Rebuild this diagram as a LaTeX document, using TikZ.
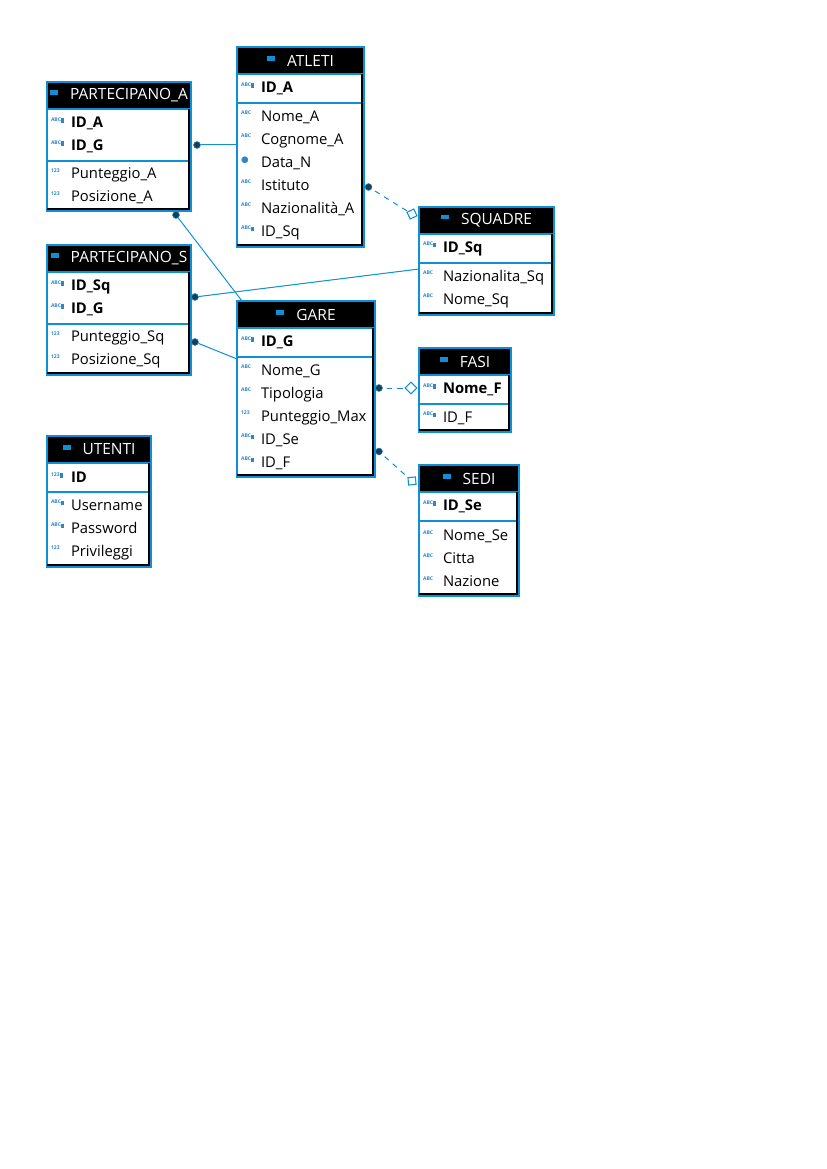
\documentclass[tikz,border=0pt]{standalone}
\usepackage{fontspec}
\setmainfont{Open Sans}
\newfontfamily\symfont{DejaVu Sans}
\usetikzlibrary{positioning, shapes.geometric}
\definecolor{erblue}{HTML}{0E8FD6}
\definecolor{erdark}{HTML}{1F3B52}
\definecolor{ericon}{HTML}{2F86C4}
\newcommand{\iconbox}[1]{\makebox[15pt][l]{\raisebox{4.8pt}{\textcolor{ericon}{\fontsize{3.8}{3.8}\selectfont\bfseries #1}}}}
\newcommand{\iabc}{\iconbox{ABC}}
\newcommand{\inum}{\iconbox{123}}
\newcommand{\ikey}{\iconbox{ABC\rule[-1.2pt]{2.2pt}{3.4pt}}}
\newcommand{\inkey}{\iconbox{123\rule[-1.2pt]{2.2pt}{3.4pt}}}
\newcommand{\idate}{\makebox[15pt][l]{\raisebox{3.6pt}{\textcolor{ericon}{\symfont\fontsize{6.5}{6.5}\selectfont ●}}}}
\newcommand{\ihead}{\textcolor{erblue}{\rule[4pt]{6pt}{3.6pt}}\hspace{9pt}}
\tikzset{
  x=0.75pt, y=-0.75pt,
  tabw/.style={minimum width=#1*0.75pt},
  tabrow/.style={minimum height=#1*0.75pt},
  tabhead/.style={rectangle, draw=erblue, line width=1.8pt, fill=black, text=white, outer sep=0pt,
                  inner sep=0pt, minimum height=27*0.75pt, font=\fontsize{11.6}{12}\selectfont},
  tabbody/.style={rectangle, draw=erblue, line width=1.8pt, fill=white, outer sep=0pt, inner sep=0pt,
                  align=left, font=\fontsize{11.1}{17.25}\selectfont},
  tabkey/.style={tabbody, font=\fontsize{11.1}{17.25}\selectfont\bfseries},
  tabedge/.style={draw=black, line width=1.1pt},
  rel/.style={draw=erblue, line width=0.75pt},
  reld/.style={rel, dash pattern=on 4pt off 4pt, dash phase=-3pt},
  erdot/.style={circle, fill=erdark, draw=erblue, line width=0.4pt, inner sep=0pt, minimum size=5.2pt},
  ersq/.style={rectangle, draw=erblue, fill=white, line width=0.8pt, inner sep=0pt, minimum size=5.6pt},
  erdia/.style={diamond, draw=erblue, fill=white, line width=0.8pt, inner sep=0pt, minimum size=9pt},
}
\begin{document}
\begin{tikzpicture}
  \useasboundingbox (0,0) rectangle (826,1169);
  % tables
  \node[tabhead, tabw=144, anchor=north west] (pah) at (47,82) {\ihead PARTECIPANO\_A};
  \node[tabkey, tabw=144, tabrow=52, text width=136*0.75pt, below=0pt of pah] (pak) {\ikey ID\_A\\ \ikey ID\_G};
  \node[tabbody, tabw=144, tabrow=50, text width=136*0.75pt, below=0pt of pak] (paa) {\inum Punteggio\_A\\ \inum Posizione\_A};

  \node[tabhead, tabw=127, anchor=north west] (ath) at (237,47) {\ihead ATLETI};
  \node[tabkey, tabw=127, tabrow=29, text width=119*0.75pt, below=0pt of ath] (atk) {\ikey ID\_A};
  \node[tabbody, tabw=127, tabrow=144, text width=119*0.75pt, below=0pt of atk] (ata) {\iabc Nome\_A\\ \iabc Cognome\_A\\ \idate Data\_N\\ \iabc Istituto\\ \iabc Nazionalità\_A\\ \ikey ID\_Sq};

  \node[tabhead, tabw=144, anchor=north west] (psh) at (47,245) {\ihead PARTECIPANO\_S};
  \node[tabkey, tabw=144, tabrow=52, text width=136*0.75pt, below=0pt of psh] (psk) {\ikey ID\_Sq\\ \ikey ID\_G};
  \node[tabbody, tabw=144, tabrow=51, text width=136*0.75pt, below=0pt of psk] (psa) {\inum Punteggio\_Sq\\ \inum Posizione\_Sq};

  \node[tabhead, tabw=138, anchor=north west] (gah) at (237,301) {\ihead GARE};
  \node[tabkey, tabw=138, tabrow=29, text width=130*0.75pt, below=0pt of gah] (gak) {\ikey ID\_G};
  \node[tabbody, tabw=138, tabrow=120, text width=130*0.75pt, below=0pt of gak] (gaa) {\iabc Nome\_G\\ \iabc Tipologia\\ \inum Punteggio\_Max\\ \ikey ID\_Se\\ \ikey ID\_F};

  \node[tabhead, tabw=135, anchor=north west] (sqh) at (419,207) {\ihead SQUADRE};
  \node[tabkey, tabw=135, tabrow=29, text width=127*0.75pt, below=0pt of sqh] (sqk) {\ikey ID\_Sq};
  \node[tabbody, tabw=135, tabrow=52, text width=127*0.75pt, below=0pt of sqk] (sqa) {\iabc Nazionalita\_Sq\\ \iabc Nome\_Sq};

  \node[tabhead, tabw=92, anchor=north west] (fah) at (419,348) {\ihead FASI};
  \node[tabkey, tabw=92, tabrow=29, text width=84*0.75pt, below=0pt of fah] (fak) {\ikey Nome\_F};
  \node[tabbody, tabw=92, tabrow=28, text width=84*0.75pt, below=0pt of fak] (faa) {\ikey ID\_F};

  \node[tabhead, tabw=100, anchor=north west] (seh) at (419,465) {\ihead SEDI};
  \node[tabkey, tabw=100, tabrow=29, text width=92*0.75pt, below=0pt of seh] (sek) {\ikey ID\_Se};
  \node[tabbody, tabw=100, tabrow=75, text width=92*0.75pt, below=0pt of sek] (sea) {\iabc Nome\_Se\\ \iabc Citta\\ \iabc Nazione};

  \node[tabhead, tabw=104, anchor=north west] (uth) at (47,436) {\ihead UTENTI};
  \node[tabkey, tabw=104, tabrow=29, text width=96*0.75pt, below=0pt of uth] (utk) {\inkey ID};
  \node[tabbody, tabw=104, tabrow=75, text width=96*0.75pt, below=0pt of utk] (uta) {\ikey Username\\ \ikey Password\\ \inum Privileggi};

  % dark inner edge
  \foreach \k/\a in {pak/paa,atk/ata,psk/psa,gak/gaa,sqk/sqa,fak/faa,sek/sea,utk/uta}{
    \draw[tabedge] ([xshift=-1.4pt]\k.north east) -- ([xshift=-1.4pt,yshift=1.4pt]\a.south east) -- ([yshift=1.4pt]\a.south west);
  }

  % relations
  \node[erdot] (d1) at (197,145) {};
  \node[erdot] (d2) at (176,215) {};
  \node[erdot] (d3) at (195,297) {};
  \node[erdot] (d4) at (195,342) {};
  \node[erdot] (d5) at (368.5,187) {};
  \node[erdot] (d6) at (379,388) {};
  \node[erdot] (d7) at (379,451.5) {};
  \node[ersq, rotate=25] (m1) at (412,214) {};
  \node[erdia] (m2) at (411,388) {};
  \node[ersq, rotate=5] (m3) at (412,481) {};

  \draw[rel] (d1) -- (d1 -| ata.west);
  \draw[rel] (d2) -- ([xshift=5*0.75pt]gah.north west);
  \draw[rel] (d3) -- ([yshift=-6*0.75pt]sqa.north west);
  \draw[rel] (d4) -- ([yshift=-2*0.75pt]gaa.north west);
  \draw[reld] (d5) -- (m1);
  \draw[reld] (d6) -- (m2);
  \draw[reld] (d7) -- (m3);
\end{tikzpicture}
\end{document}
